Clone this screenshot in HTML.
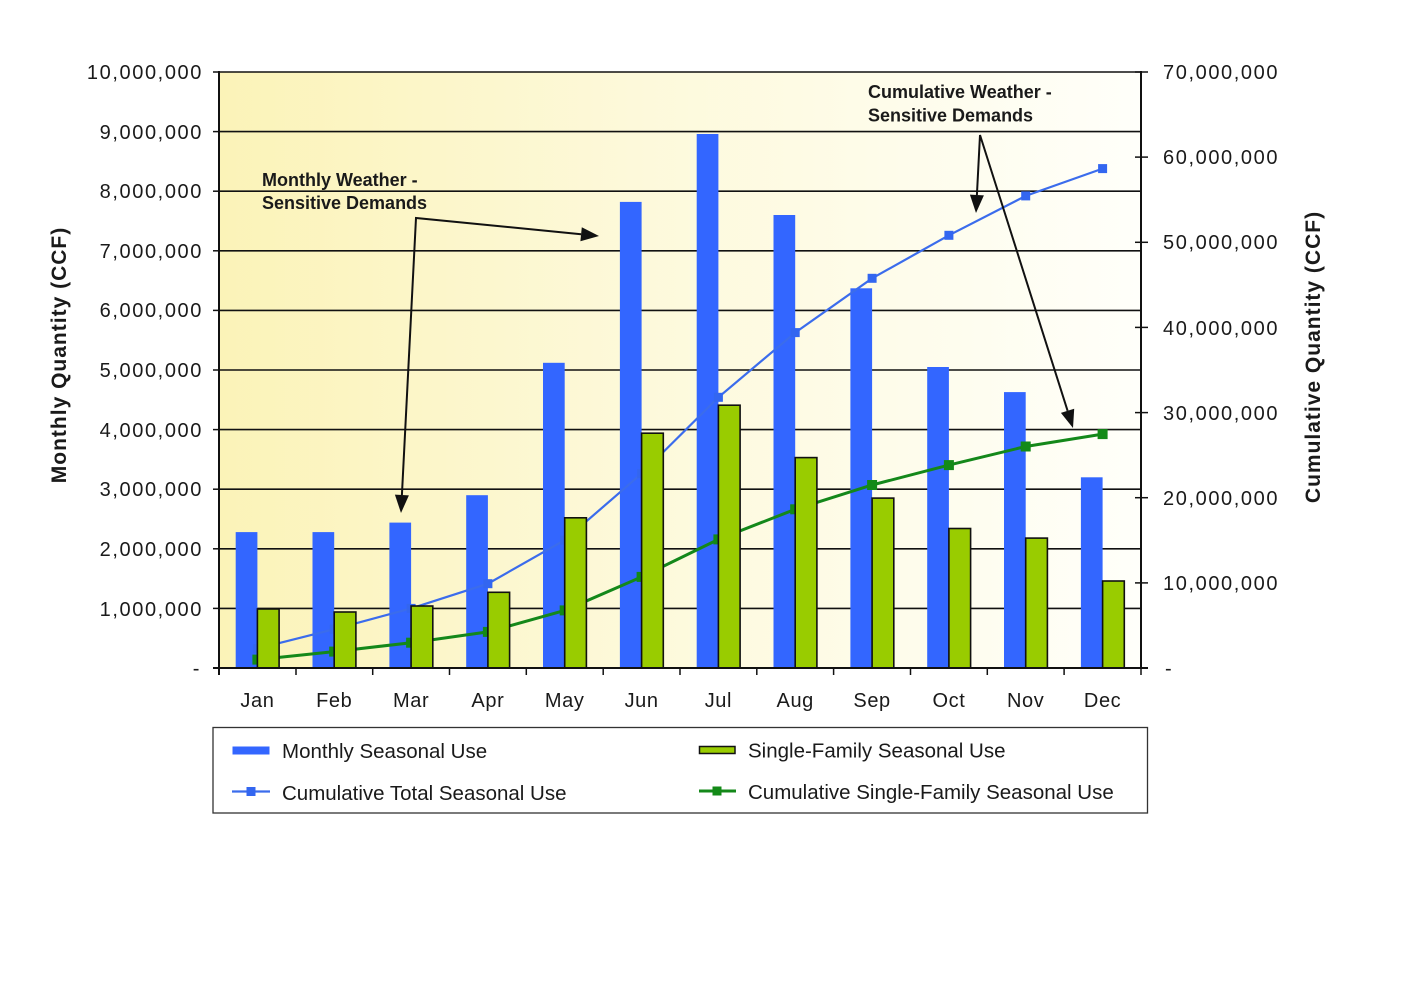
<!DOCTYPE html>
<html><head><meta charset="utf-8"><style>
html,body{margin:0;padding:0;background:#fff;}
svg{display:block;}
text{font-family:"Liberation Sans",Arial,sans-serif;fill:#1a1a1a;}
.tk{font-size:20px;letter-spacing:1.6px;}
.mo{font-size:20px;letter-spacing:0.6px;}
.lg{font-size:20.5px;}
.an{font-size:18px;font-weight:bold;}
.ti{font-size:21px;font-weight:bold;letter-spacing:1px;}
</style></head><body>
<svg width="1409" height="985" viewBox="0 0 1409 985" xmlns="http://www.w3.org/2000/svg">
<defs>
<linearGradient id="bg" x1="0" y1="0" x2="1" y2="0">
<stop offset="0" stop-color="#fbf3b8"/>
<stop offset="0.45" stop-color="#fdf9da"/>
<stop offset="1" stop-color="#fffffa"/>
</linearGradient>
</defs>
<rect x="0" y="0" width="1409" height="985" fill="#fff"/>
<rect x="219" y="72" width="922" height="596" fill="url(#bg)"/>
<!-- gridlines -->
<g stroke="#111" stroke-width="1.6">
<line x1="219" y1="72" x2="1141" y2="72"/>
<line x1="219" y1="131.6" x2="1141" y2="131.6"/>
<line x1="219" y1="191.2" x2="1141" y2="191.2"/>
<line x1="219" y1="250.8" x2="1141" y2="250.8"/>
<line x1="219" y1="310.4" x2="1141" y2="310.4"/>
<line x1="219" y1="370" x2="1141" y2="370"/>
<line x1="219" y1="429.6" x2="1141" y2="429.6"/>
<line x1="219" y1="489.2" x2="1141" y2="489.2"/>
<line x1="219" y1="548.8" x2="1141" y2="548.8"/>
<line x1="219" y1="608.4" x2="1141" y2="608.4"/>
</g>
<!-- blue bars -->
<g fill="#3366ff">
<rect x="235.7" y="532.1" width="21.7" height="135.9"/>
<rect x="312.5" y="532.1" width="21.7" height="135.9"/>
<rect x="389.4" y="522.6" width="21.7" height="145.4"/>
<rect x="466.2" y="495.2" width="21.7" height="172.8"/>
<rect x="543.0" y="362.8" width="21.7" height="305.2"/>
<rect x="619.9" y="201.9" width="21.7" height="466.1"/>
<rect x="696.7" y="134.0" width="21.7" height="534.0"/>
<rect x="773.5" y="215.0" width="21.7" height="453.0"/>
<rect x="850.4" y="288.3" width="21.7" height="379.7"/>
<rect x="927.2" y="367.0" width="21.7" height="301.0"/>
<rect x="1004.0" y="392.1" width="21.7" height="275.9"/>
<rect x="1080.9" y="477.3" width="21.7" height="190.7"/>
</g>
<!-- cumulative total line -->
<polyline fill="none" stroke="#3b6cec" stroke-width="2.2" points="257.4,648.6 334.2,629.2 411.1,608.4 487.9,583.7 564.7,540.1 641.6,473.6 718.4,397.3 795.2,332.6 872.1,278.3 948.9,235.3 1025.7,195.9 1102.6,168.6"/>
<g fill="#3366f0">
<rect x="252.9" y="644.1" width="9" height="9"/>
<rect x="329.7" y="624.7" width="9" height="9"/>
<rect x="406.6" y="603.9" width="9" height="9"/>
<rect x="483.4" y="579.2" width="9" height="9"/>
<rect x="560.2" y="535.6" width="9" height="9"/>
<rect x="637.1" y="469.1" width="9" height="9"/>
<rect x="713.9" y="392.8" width="9" height="9"/>
<rect x="790.7" y="328.1" width="9" height="9"/>
<rect x="867.6" y="273.8" width="9" height="9"/>
<rect x="944.4" y="230.8" width="9" height="9"/>
<rect x="1021.2" y="191.4" width="9" height="9"/>
<rect x="1098.1" y="164.1" width="9" height="9"/>
</g>
<!-- cumulative single-family line -->
<polyline fill="none" stroke="#14881a" stroke-width="3" points="257.4,659.6 334.2,651.6 411.1,642.7 487.9,631.9 564.7,610.4 641.6,576.9 718.4,539.4 795.2,509.3 872.1,485.0 948.9,465.1 1025.7,446.5 1102.6,434.1"/>
<g fill="#138a17">
<rect x="252.4" y="654.6" width="10" height="10"/>
<rect x="329.2" y="646.6" width="10" height="10"/>
<rect x="406.1" y="637.7" width="10" height="10"/>
<rect x="482.9" y="626.9" width="10" height="10"/>
<rect x="559.7" y="605.4" width="10" height="10"/>
<rect x="636.6" y="571.9" width="10" height="10"/>
<rect x="713.4" y="534.4" width="10" height="10"/>
<rect x="790.2" y="504.3" width="10" height="10"/>
<rect x="867.1" y="480.0" width="10" height="10"/>
<rect x="943.9" y="460.1" width="10" height="10"/>
<rect x="1020.7" y="441.5" width="10" height="10"/>
<rect x="1097.6" y="429.1" width="10" height="10"/>
</g>
<!-- green bars -->
<g fill="#99cc00" stroke="#111" stroke-width="1.6">
<rect x="257.4" y="609.0" width="21.7" height="59.0"/>
<rect x="334.2" y="612.0" width="21.7" height="56.0"/>
<rect x="411.1" y="606.0" width="21.7" height="62.0"/>
<rect x="487.9" y="592.3" width="21.7" height="75.7"/>
<rect x="564.7" y="517.8" width="21.7" height="150.2"/>
<rect x="641.6" y="433.2" width="21.7" height="234.8"/>
<rect x="718.4" y="405.2" width="21.7" height="262.8"/>
<rect x="795.2" y="457.6" width="21.7" height="210.4"/>
<rect x="872.1" y="498.1" width="21.7" height="169.9"/>
<rect x="948.9" y="528.5" width="21.7" height="139.5"/>
<rect x="1025.7" y="538.1" width="21.7" height="129.9"/>
<rect x="1102.6" y="581.0" width="21.7" height="87.0"/>
</g>
<!-- axes -->
<g stroke="#111" stroke-width="2">
<line x1="219" y1="71" x2="219" y2="675"/>
<line x1="1141" y1="71" x2="1141" y2="669"/>
<line x1="213" y1="668" x2="1148" y2="668"/>
</g>
<g stroke="#111" stroke-width="1.5">
<line x1="213" y1="72" x2="219" y2="72"/>
<line x1="213" y1="131.6" x2="219" y2="131.6"/>
<line x1="213" y1="191.2" x2="219" y2="191.2"/>
<line x1="213" y1="250.8" x2="219" y2="250.8"/>
<line x1="213" y1="310.4" x2="219" y2="310.4"/>
<line x1="213" y1="370" x2="219" y2="370"/>
<line x1="213" y1="429.6" x2="219" y2="429.6"/>
<line x1="213" y1="489.2" x2="219" y2="489.2"/>
<line x1="213" y1="548.8" x2="219" y2="548.8"/>
<line x1="213" y1="608.4" x2="219" y2="608.4"/>
<line x1="1135" y1="72" x2="1148" y2="72"/>
<line x1="1135" y1="157.1" x2="1148" y2="157.1"/>
<line x1="1135" y1="242.3" x2="1148" y2="242.3"/>
<line x1="1135" y1="327.4" x2="1148" y2="327.4"/>
<line x1="1135" y1="412.6" x2="1148" y2="412.6"/>
<line x1="1135" y1="497.7" x2="1148" y2="497.7"/>
<line x1="1135" y1="582.9" x2="1148" y2="582.9"/>
<line x1="296.0" y1="668" x2="296.0" y2="675"/>
<line x1="372.7" y1="668" x2="372.7" y2="675"/>
<line x1="449.5" y1="668" x2="449.5" y2="675"/>
<line x1="526.3" y1="668" x2="526.3" y2="675"/>
<line x1="603.2" y1="668" x2="603.2" y2="675"/>
<line x1="680.0" y1="668" x2="680.0" y2="675"/>
<line x1="756.8" y1="668" x2="756.8" y2="675"/>
<line x1="833.6" y1="668" x2="833.6" y2="675"/>
<line x1="910.5" y1="668" x2="910.5" y2="675"/>
<line x1="987.3" y1="668" x2="987.3" y2="675"/>
<line x1="1064.1" y1="668" x2="1064.1" y2="675"/>
<line x1="1141" y1="668" x2="1141" y2="675"/>
</g>
<!-- left tick labels -->
<g class="tk" text-anchor="end">
<text x="203" y="79">10,000,000</text>
<text x="203" y="139">9,000,000</text>
<text x="203" y="198">8,000,000</text>
<text x="203" y="258">7,000,000</text>
<text x="203" y="317">6,000,000</text>
<text x="203" y="377">5,000,000</text>
<text x="203" y="437">4,000,000</text>
<text x="203" y="496">3,000,000</text>
<text x="203" y="556">2,000,000</text>
<text x="203" y="616">1,000,000</text>
<text x="201" y="675">-</text>
</g>
<!-- right tick labels -->
<g class="tk" text-anchor="start">
<text x="1163" y="79">70,000,000</text>
<text x="1163" y="164">60,000,000</text>
<text x="1163" y="249">50,000,000</text>
<text x="1163" y="335">40,000,000</text>
<text x="1163" y="420">30,000,000</text>
<text x="1163" y="505">20,000,000</text>
<text x="1163" y="590">10,000,000</text>
<text x="1165" y="675">-</text>
</g>
<!-- month labels -->
<g class="mo" text-anchor="middle">
<text x="257.4" y="707">Jan</text>
<text x="334.2" y="707">Feb</text>
<text x="411.1" y="707">Mar</text>
<text x="487.9" y="707">Apr</text>
<text x="564.7" y="707">May</text>
<text x="641.6" y="707">Jun</text>
<text x="718.4" y="707">Jul</text>
<text x="795.2" y="707">Aug</text>
<text x="872.1" y="707">Sep</text>
<text x="948.9" y="707">Oct</text>
<text x="1025.7" y="707">Nov</text>
<text x="1102.6" y="707">Dec</text>
</g>
<!-- axis titles -->
<text class="ti" text-anchor="middle" transform="translate(66,355) rotate(-90)">Monthly Quantity (CCF)</text>
<text class="ti" text-anchor="middle" transform="translate(1320,357) rotate(-90)">Cumulative Quantity (CCF)</text>
<!-- annotations -->
<text class="an" x="262" y="186">Monthly Weather -</text>
<text class="an" x="262" y="209">Sensitive Demands</text>
<text class="an" x="868" y="98">Cumulative Weather -</text>
<text class="an" x="868" y="121.5">Sensitive Demands</text>
<g stroke="#111" stroke-width="2" fill="none">
<polyline points="581.1,234.2 416,218 401.9,495"/>
<polyline points="976.9,195 980,135 1067.6,410.8"/>
</g>
<g fill="#111">
<polygon points="599,236 580.4,241.2 581.8,227.2"/>
<polygon points="401,513 408.9,495.4 394.9,494.6"/>
<polygon points="976,213 983.9,195.4 969.9,194.6"/>
<polygon points="1073,428 1060.9,412.9 1074.2,408.7"/>
</g>
<!-- legend -->
<rect x="213" y="727.5" width="934.5" height="85.5" fill="#fff" stroke="#333" stroke-width="1.3"/>
<rect x="232.5" y="746.5" width="37" height="8" fill="#3366ff"/>
<line x1="232" y1="791.5" x2="270" y2="791.5" stroke="#3b6cec" stroke-width="2.2"/>
<rect x="246.5" y="787" width="9" height="9" fill="#3366f0"/>
<rect x="699.5" y="746.5" width="35.5" height="7" fill="#99cc00" stroke="#111" stroke-width="1.5"/>
<line x1="699" y1="791" x2="736" y2="791" stroke="#14881a" stroke-width="3"/>
<rect x="712.5" y="786.5" width="9" height="9" fill="#138a17"/>
<g class="lg">
<text x="282" y="758">Monthly Seasonal Use</text>
<text x="282" y="800">Cumulative Total Seasonal Use</text>
<text x="748" y="757.5">Single-Family Seasonal Use</text>
<text x="748" y="799">Cumulative Single-Family Seasonal Use</text>
</g>
</svg>
</body></html>
